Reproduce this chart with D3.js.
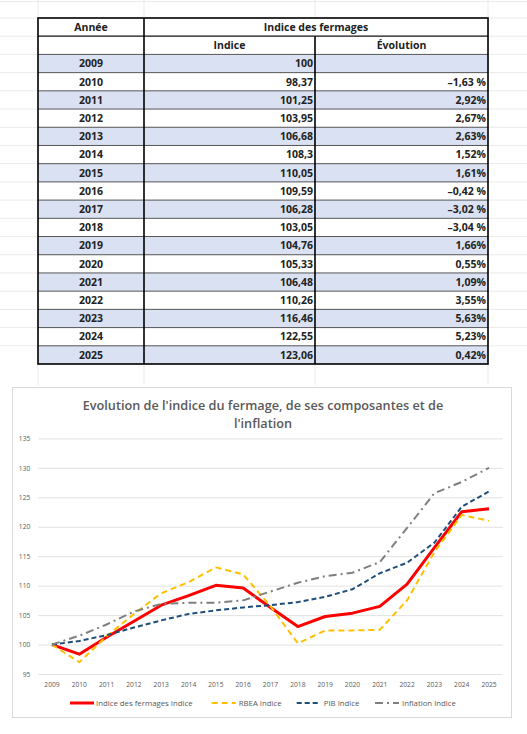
<!DOCTYPE html>
<html>
<head>
<meta charset="utf-8">
<script src="https://cdn.jsdelivr.net/npm/d3@7"></script>
<style>
  body { margin: 0; background: #fff; }
  text { font-family: 'Open Sans', sans-serif; }
</style>
</head>
<body>
<div id="chart"></div>
<script>
// data
const years = [2009, 2010, 2011, 2012, 2013, 2014, 2015, 2016, 2017, 2018, 2019, 2020, 2021, 2022, 2023, 2024, 2025];
const fermage = [100, 98.37, 101.25, 103.95, 106.68, 108.3, 110.05, 109.59, 106.28, 103.05, 104.76, 105.33, 106.48, 110.26, 116.46, 122.55, 123.06];
const evolution = [null, -1.63, 2.92, 2.67, 2.63, 1.52, 1.61, -0.42, -3.02, -3.04, 1.66, 0.55, 1.09, 3.55, 5.63, 5.23, 0.42];
const rbea = [100, 97.0, 101.4, 105.2, 108.7, 110.6, 113.1, 111.9, 106.5, 100.2, 102.4, 102.4, 102.5, 107.5, 115.7, 122.0, 121.0];
const pib = [100, 100.6, 101.6, 102.9, 104.1, 105.2, 105.8, 106.3, 106.7, 107.2, 108.1, 109.4, 112.1, 113.9, 117.3, 123.4, 126.0];
const inflation = [100, 101.5, 103.4, 105.6, 106.9, 107.1, 107.1, 107.5, 109.0, 110.5, 111.6, 112.2, 114.0, 119.8, 125.7, 127.6, 130.0];
const yTicks = [95, 100, 105, 110, 115, 120, 125, 130, 135];

const chartTitle = ["Evolution de l'indice du fermage, de ses composantes et de", "l'inflation"];

const series = [
  { name: 'Indice des fermages Indice', values: fermage, color: '#ff0000', width: 3, dash: null },
  { name: 'RBEA Indice', values: rbea, color: '#ffc000', width: 2, dash: '6,4' },
  { name: 'PIB Indice', values: pib, color: '#1f4e79', width: 2, dash: '5,3' },
  { name: 'Inflation Indice', values: inflation, color: '#7f7f7f', width: 2, dash: '8,4,2,4' }
];

const W = 527, H = 734;
const frNum = v => String(v).replace('.', ',');
const frEvo = v => v == null ? '' : (v < 0 ? '\u2013' + frNum(Math.abs(v)) + ' %' : frNum(v) + '%');

const svg = d3.select('#chart').append('svg')
    .attr('width', W)
    .attr('height', H);

// ---------- table ----------
const colX = [38, 144, 315, 488];
const rowKeys = ['h1', 'h2'].concat(years);
const rowY = d3.scaleBand().domain(rowKeys).range([18, 364]);
const rh = rowY.bandwidth();

// faint spreadsheet grid behind
const sheet = svg.append('g').attr('stroke', '#e6e6e6').attr('stroke-width', 0.8);
sheet.append('line').attr('x1', 0).attr('x2', W).attr('y1', 1.5).attr('y2', 1.5);
rowKeys.forEach(k => {
  sheet.append('line').attr('x1', 0).attr('x2', W).attr('y1', rowY(k)).attr('y2', rowY(k));
});
colX.forEach(x => {
  sheet.append('line').attr('x1', x).attr('x2', x).attr('y1', 0).attr('y2', 385);
});

const table = svg.append('g');

table.selectAll('rect.row')
    .data(years)
    .enter().append('rect')
      .attr('class', 'row')
      .attr('x', colX[0])
      .attr('y', d => rowY(d))
      .attr('width', colX[3] - colX[0])
      .attr('height', rh)
      .attr('fill', (d, i) => i % 2 === 0 ? '#d9e1f3' : '#fff');

table.selectAll('rect.head')
    .data(['h1', 'h2'])
    .enter().append('rect')
      .attr('class', 'head')
      .attr('x', colX[0])
      .attr('y', d => rowY(d))
      .attr('width', colX[3] - colX[0])
      .attr('height', rh)
      .attr('fill', '#fff');

// thin row lines
table.selectAll('line.rowline')
    .data(years)
    .enter().append('line')
      .attr('class', 'rowline')
      .attr('x1', colX[0]).attr('x2', colX[3])
      .attr('y1', d => rowY(d)).attr('y2', d => rowY(d))
      .attr('stroke', '#444')
      .attr('stroke-width', 0.9);

table.append('line')
    .attr('x1', colX[0]).attr('x2', colX[3])
    .attr('y1', rowY('h2')).attr('y2', rowY('h2'))
    .attr('stroke', '#111').attr('stroke-width', 1.2);

table.append('line')
    .attr('x1', colX[1]).attr('x2', colX[1])
    .attr('y1', 18).attr('y2', 364)
    .attr('stroke', '#000').attr('stroke-width', 1.6);

table.append('line')
    .attr('x1', colX[2]).attr('x2', colX[2])
    .attr('y1', rowY('h2')).attr('y2', 364)
    .attr('stroke', '#000').attr('stroke-width', 1.6);

table.append('rect')
    .attr('x', colX[0]).attr('y', 18)
    .attr('width', colX[3] - colX[0]).attr('height', 364 - 18)
    .attr('fill', 'none')
    .attr('stroke', '#000')
    .attr('stroke-width', 1.6);

const cellText = table.append('g')
    .attr('font-size', 10.5)
    .attr('font-weight', 700)
    .attr('fill', '#222');

const midY = k => rowY(k) + rh / 2 + 3.8;

cellText.append('text').attr('x', (colX[0] + colX[1]) / 2).attr('y', midY('h1'))
    .attr('text-anchor', 'middle').text('Année');
cellText.append('text').attr('x', (colX[1] + colX[3]) / 2).attr('y', midY('h1'))
    .attr('text-anchor', 'middle').text('Indice des fermages');
cellText.append('text').attr('x', (colX[1] + colX[2]) / 2).attr('y', midY('h2'))
    .attr('text-anchor', 'middle').text('Indice');
cellText.append('text').attr('x', (colX[2] + colX[3]) / 2).attr('y', midY('h2'))
    .attr('text-anchor', 'middle').text('Évolution');

years.forEach((yr, i) => {
  cellText.append('text').attr('x', (colX[0] + colX[1]) / 2).attr('y', midY(yr))
      .attr('text-anchor', 'middle').text(yr);
  cellText.append('text').attr('x', colX[2] - 2).attr('y', midY(yr))
      .attr('text-anchor', 'end').text(frNum(fermage[i]));
  cellText.append('text').attr('x', colX[3] - 2).attr('y', midY(yr))
      .attr('text-anchor', 'end').text(frEvo(evolution[i]));
});

// ---------- chart ----------
svg.append('rect')
    .attr('x', 12.5).attr('y', 387.5)
    .attr('width', 499).attr('height', 330)
    .attr('fill', '#fff')
    .attr('stroke', '#d9d9d9')
    .attr('stroke-width', 1);

const plot = { left: 38.3, right: 502.7, top: 438.4, bottom: 674 };

const x = d3.scaleBand()
    .domain(years)
    .range([plot.left, plot.right]);

const y = d3.scaleLinear()
    .domain([95, 135])
    .range([plot.bottom, plot.top]);

const cx = d => x(d) + x.bandwidth() / 2;

svg.append('g')
    .selectAll('text')
    .data(chartTitle)
    .enter().append('text')
      .attr('x', 263)
      .attr('y', (d, i) => 410 + i * 18)
      .attr('text-anchor', 'middle')
      .attr('font-size', 12.7)
      .attr('font-weight', 600)
      .attr('fill', '#595959')
      .text(d => d);

const yAxis = d3.axisLeft(y)
    .tickValues(yTicks)
    .tickSize(-(plot.right - plot.left))
    .tickPadding(8);

const gy = svg.append('g')
    .attr('transform', 'translate(' + plot.left + ',0)')
    .call(yAxis);
gy.select('.domain').remove();
gy.selectAll('line').attr('stroke', '#d9d9d9').attr('stroke-width', 0.8);
gy.selectAll('text').attr('fill', '#595959').attr('font-size', 6.7);

const xAxis = d3.axisBottom(x)
    .tickSize(0)
    .tickPadding(8);

const gx = svg.append('g')
    .attr('transform', 'translate(0,' + plot.bottom + ')')
    .call(xAxis);
gx.select('.domain').remove();
gx.selectAll('text').attr('fill', '#595959').attr('font-size', 6.7);

const line = d3.line()
    .x((d, i) => cx(years[i]))
    .y(d => y(d));

svg.append('g')
    .selectAll('path')
    .data(series)
    .enter().append('path')
      .attr('d', d => line(d.values))
      .attr('fill', 'none')
      .attr('stroke', d => d.color)
      .attr('stroke-width', d => d.width)
      .attr('stroke-dasharray', d => d.dash)
      .attr('stroke-linejoin', 'round');

// legend
const legendX = [70, 211.7, 296.7, 375];
const legendY = 703;
const leg = svg.append('g')
    .selectAll('g')
    .data(series)
    .enter().append('g')
      .attr('transform', (d, i) => 'translate(' + legendX[i] + ',' + legendY + ')');

leg.append('line')
    .attr('x1', 0).attr('x2', 24)
    .attr('stroke', d => d.color)
    .attr('stroke-width', d => d.width)
    .attr('stroke-dasharray', d => d.dash);

leg.append('text')
    .attr('x', (d, i) => i === 0 ? 26 : 27)
    .attr('y', 2.7)
    .attr('font-size', 7.8)
    .attr('fill', '#595959')
    .text(d => d.name);
</script>
</body>
</html>
